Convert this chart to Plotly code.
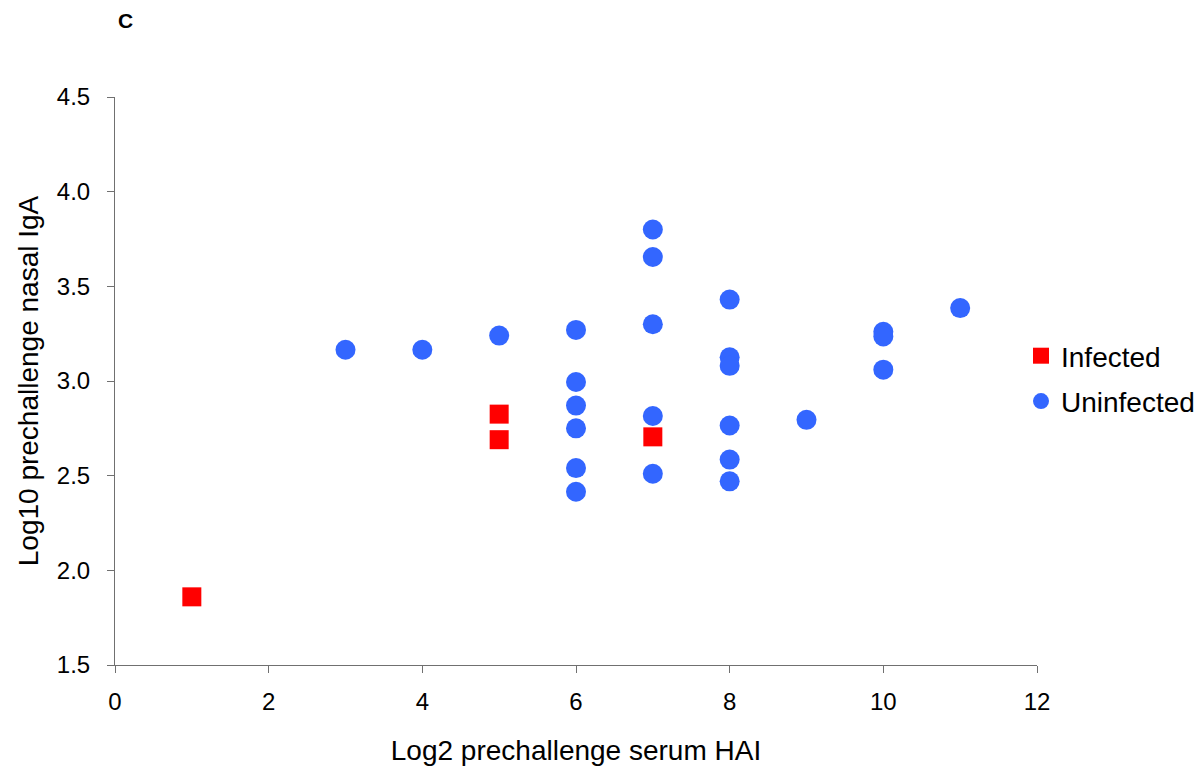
import plotly.graph_objects as go

# Data
infected_hai = [1, 5, 5, 7]
infected_iga = [1.86, 2.825, 2.69, 2.705]

uninfected_hai = [3, 4, 5, 6, 6, 6, 6, 6, 6, 7, 7, 7, 7, 7, 8, 8, 8, 8, 8, 8, 9, 10, 10, 10, 11]
uninfected_iga = [3.165, 3.165, 3.24, 3.27, 2.995, 2.87, 2.75, 2.54, 2.415,
                  3.80, 3.655, 3.30, 2.815, 2.51,
                  3.43, 3.125, 3.08, 2.765, 2.585, 2.47,
                  2.795, 3.26, 3.235, 3.06, 3.385]

x_ticks = [0, 2, 4, 6, 8, 10, 12]
y_ticks = [1.5, 2.0, 2.5, 3.0, 3.5, 4.0, 4.5]
y_tick_labels = ["1.5", "2.0", "2.5", "3.0", "3.5", "4.0", "4.5"]

FONT = "Liberation Sans, Arial, sans-serif"

fig = go.Figure()
fig.add_trace(go.Scatter(
    x=infected_hai, y=infected_iga, mode="markers", name="Infected", legendgroup="a",
    marker=dict(symbol="square", size=19, color="#FF0000", line=dict(width=0)),
))
fig.add_trace(go.Scatter(
    x=uninfected_hai, y=uninfected_iga, mode="markers", name="Uninfected", legendgroup="b",
    marker=dict(symbol="circle", size=20, color="#3366FF", line=dict(width=0)),
))

axis_common = dict(
    showgrid=False, zeroline=False, showline=True, linecolor="#707070", linewidth=1,
    ticks="outside", ticklen=7, tickcolor="#707070", automargin=False,
    tickfont=dict(family=FONT, size=24, color="#000000"),
)

L, R, T, B = 115, 166, 97, 104
fig.update_layout(
    width=1203, height=769,
    paper_bgcolor="white", plot_bgcolor="white",
    margin=dict(l=L, r=R, t=T, b=B, autoexpand=False),
    xaxis=dict(range=[0, 12], tickvals=x_ticks, ticktext=[str(v) for v in x_ticks],
               ticklabelstandoff=8,
               title=dict(text="Log2 prechallenge serum HAI", font=dict(family=FONT, size=28, color="#000"), standoff=26),
               **axis_common),
    yaxis=dict(range=[1.5, 4.5], tickvals=y_ticks, ticktext=y_tick_labels,
               ticklabelstandoff=12,
               title=dict(text="Log10 prechallenge nasal IgA", font=dict(family=FONT, size=28, color="#000"), standoff=10),
               **axis_common),
    showlegend=True,
    legend=dict(x=(1021 - L) / (1203 - L - R), y=1 - (331 - T) / (769 - T - B), xanchor="left", yanchor="top",
                font=dict(family=FONT, size=28, color="#000"), bgcolor="rgba(0,0,0,0)",
                itemsizing="trace", tracegroupgap=6),
)
fig.add_annotation(text="<b>C</b>", xref="paper", yref="paper",
                   x=(125 - L) / (1203 - L - R), y=1 + (T - 21) / (769 - T - B),
                   xanchor="center", yanchor="middle", showarrow=False,
                   font=dict(family=FONT, size=21, color="#000"))

fig.write_html("out.html", config={"displayModeBar": False},
               post_script="document.body.style.margin='0';document.body.style.padding='0';")
